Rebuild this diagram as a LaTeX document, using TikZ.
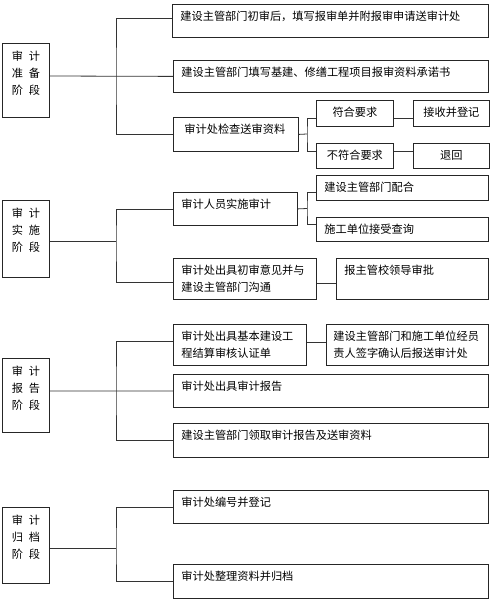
\documentclass[tikz,border=0pt]{standalone}
\usepackage{fontspec}
\newfontfamily\cjk{Noto Sans CJK SC}
\usetikzlibrary{shadows}

\begin{document}
\begin{tikzpicture}
[x=1pt,y=-1pt,line width=0.8pt,
 cell/.style={draw=black!85,fill=white,anchor=north west,inner ysep=0pt,inner xsep=8pt,
   text height=16.5pt,align=left,font=\cjk\fontsize{11.2}{17}\selectfont,
   drop shadow={shadow xshift=1pt,shadow yshift=-1pt,fill=black!35,opacity=1}},
 stage/.style={cell,inner xsep=0pt,text width=47pt,align=center,text height=17pt},
 mid/.style={align=center},
 wire/.style={draw=black!80}]
\useasboundingbox (0,0) rectangle (500,607);
% preparation
\node[stage,text depth=57pt] (Prepare) at (2,43) {审\hspace{5.8pt}计\\准\hspace{5.8pt}备\\阶\hspace{5.8pt}段};
\node[cell,text width=300pt,text depth=16.5pt] (Submit) at (172,4) {建设主管部门初审后，填写报审单并附报审申请送审计处};
\node[cell,text width=299pt,text depth=15.5pt] (Pledge) at (173,60) {建设主管部门填写基建、修缮工程项目报审资料承诺书};
\node[cell,inner xsep=11pt,text width=103pt,text depth=17.5pt] (Check) at (173,117) {审计处检查送审资料};
\node[cell,mid,text width=61pt,text depth=9.5pt] (Qualified) at (316,100) {符合要求};
\node[cell,mid,text width=61pt,text depth=8.5pt] (Unqualified) at (316,143) {不符合要求};
\node[cell,mid,text width=60pt,text depth=9.5pt] (Register) at (413,100) {接收并登记};
\node[cell,mid,text width=60pt,text depth=8.5pt] (SendBack) at (413,143) {退回};
% implementation
\node[stage,text depth=60pt] (Implement) at (2,200) {审\hspace{5.8pt}计\\实\hspace{5.8pt}施\\阶\hspace{5.8pt}段};
\node[cell,text width=108pt,text depth=16.5pt] (Audit) at (173,192) {审计人员实施审计};
\node[cell,text width=156pt,text depth=8.5pt] (Cooperate) at (316,175) {建设主管部门配合};
\node[cell,text width=156pt,text depth=7.5pt] (Inquiry) at (316,217) {施工单位接受查询};
\node[cell,text width=127pt,text depth=24.5pt] (Opinion) at (173,258) {审计处出具初审意见并与\\建设主管部门沟通};
\node[cell,text width=136pt,text depth=24.5pt] (Approve) at (336,258) {报主管校领导审批};
% report
\node[stage,text depth=57pt] (Report) at (2,358) {审\hspace{5.8pt}计\\报\hspace{5.8pt}告\\阶\hspace{5.8pt}段};
\node[cell,text width=117pt,text depth=24.5pt] (Certify) at (173,324) {审计处出具基本建设工\\程结算审核认证单};
\node[cell,inner xsep=7pt,text width=148pt,text depth=24.5pt] (Confirm) at (326,324) {建设主管部门和施工单位经员\\责人签字确认后报送审计处};
\node[cell,text width=299pt,text depth=16.5pt] (IssueReport) at (173,374) {审计处出具审计报告};
\node[cell,text width=299pt,text depth=17.5pt] (Collect) at (173,423) {建设主管部门领取审计报告及送审资料};
% archive
\node[stage,text depth=59pt] (Archive) at (2,507) {审\hspace{5.8pt}计\\归\hspace{5.8pt}档\\阶\hspace{5.8pt}段};
\node[cell,text width=299pt,text depth=16.5pt] (Number) at (173,490) {审计处编号并登记};
\node[cell,text width=299pt,text depth=17.5pt] (File) at (173,564) {审计处整理资料并归档};
% joints
\coordinate (PrepareJoint) at (116,76);
\coordinate (ImplementJoint) at (116,241);
\coordinate (ReportJoint) at (116,391);
\coordinate (ArchiveJoint) at (116,548);
\coordinate (CheckJoint) at (307,134);
\coordinate (AuditJoint) at (307,208.5);
% links
\draw[wire] (Prepare.east |- PrepareJoint) -- (Pledge.west);
\draw[wire] ([yshift=2.5pt]Submit.west) -| (PrepareJoint) |- (Check.west);
\draw[wire] (Check.east) -- (CheckJoint);
\draw[wire] ([yshift=-5pt]Qualified.west) -| (CheckJoint) |- ([yshift=5pt]Unqualified.west);
\draw[wire] ([yshift=-5pt]Qualified.east) -- ([yshift=-5pt]Register.west);
\draw[wire] ([yshift=5pt]Unqualified.east) -- ([yshift=5pt]SendBack.west);
\draw[wire] (Implement.east |- ImplementJoint) -- (ImplementJoint);
\draw[wire] (Audit.west) -| (ImplementJoint) |- ([yshift=-3.5pt]Opinion.west);
\draw[wire] (Audit.east) -- (AuditJoint);
\draw[wire] ([yshift=-4.5pt]Cooperate.west) -| (AuditJoint) |- ([yshift=5pt]Inquiry.west);
\draw[wire] ([yshift=-4.5pt]Opinion.east) -- ([yshift=-4.5pt]Approve.west);
\draw[wire] (Report.east |- ReportJoint) -- (IssueReport.west);
\draw[wire] ([yshift=3.5pt]Certify.west) -| (ReportJoint) |- (Collect.west);
\draw[wire] ([yshift=3pt]Certify.east) -- ([yshift=3pt]Confirm.west);
\draw[wire] (Archive.east |- ArchiveJoint) -- (ArchiveJoint);
\draw[wire] (Number.west) -| (ArchiveJoint) |- (File.west);
\end{tikzpicture}
\end{document}
